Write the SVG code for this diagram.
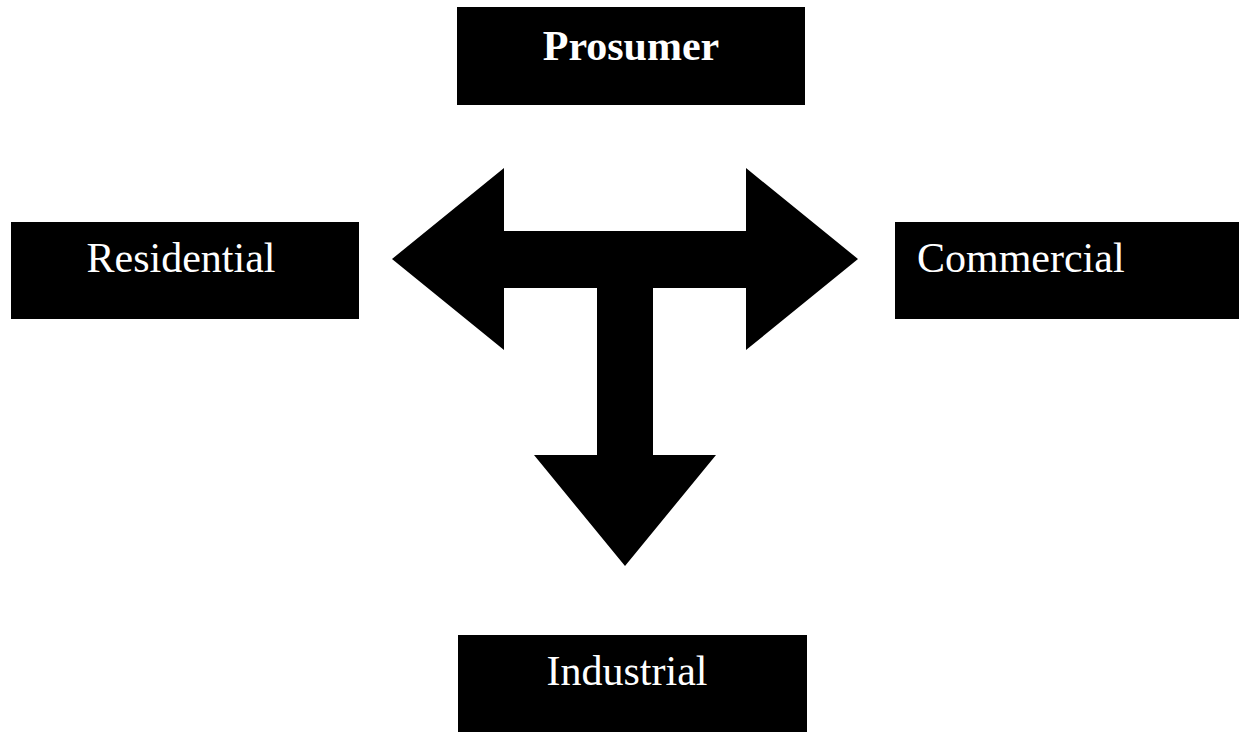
<svg xmlns="http://www.w3.org/2000/svg" width="1239" height="732" viewBox="0 0 1239 732">
<style>
.box{fill:#000;}
.lbl{fill:#fff;font-family:"Liberation Serif","Times New Roman",serif;font-size:42px;}
.b{font-weight:bold;}
</style>
<rect x="0" y="0" width="1239" height="732" fill="#fff"/>
<g id="prosumer">
<rect class="box" x="457" y="7" width="348" height="98"/>
<text class="lbl b" x="631" y="60" text-anchor="middle">Prosumer</text>
</g>
<g id="residential">
<rect class="box" x="11" y="222" width="348" height="97"/>
<text class="lbl" x="181" y="272" text-anchor="middle">Residential</text>
</g>
<g id="commercial">
<rect class="box" x="895" y="222" width="344" height="97"/>
<text class="lbl" x="917" y="272">Commercial</text>
</g>
<g id="industrial">
<rect class="box" x="458" y="635" width="349" height="97"/>
<text class="lbl" x="627" y="685" text-anchor="middle">Industrial</text>
</g>
<g id="connectors">
<path d="M392,259 L504,168 L504,231 L746,231 L746,168 L858,259 L746,350 L746,288 L653,288 L653,455 L716,455 L625,566 L534,455 L597,455 L597,288 L504,288 L504,350 Z" fill="#000"/>
</g>
</svg>
